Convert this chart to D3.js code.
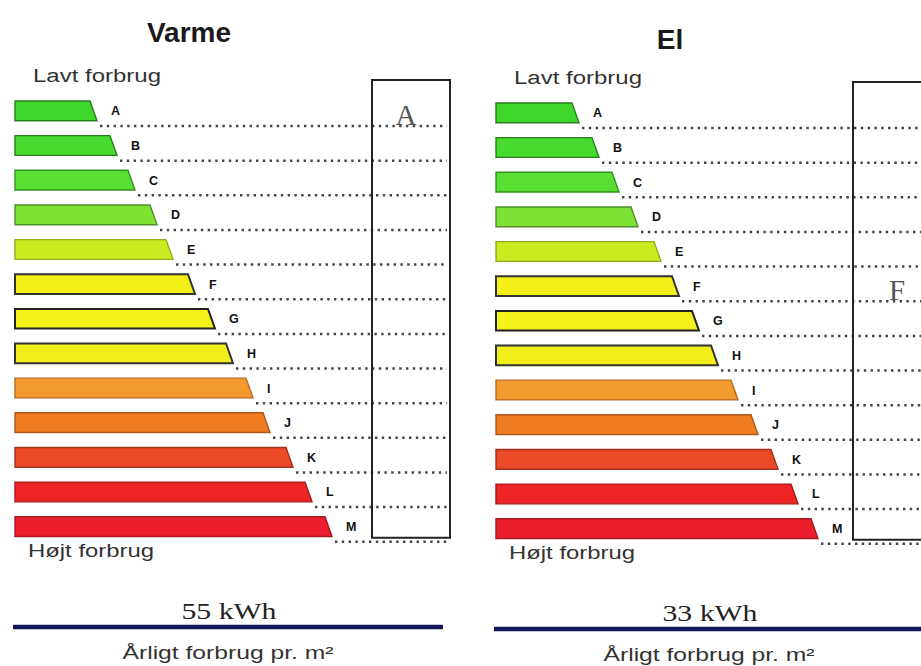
<!DOCTYPE html>
<html>
<head>
<meta charset="utf-8">
<script src="https://cdn.jsdelivr.net/npm/d3@7"></script>
<style>
  body { margin: 0; background: #fff; }
  text { font-family: "Liberation Sans", Arial, sans-serif; }
  .serif { font-family: "Liberation Serif", "Times New Roman", serif; }
</style>
</head>
<body>
<svg width="921" height="666"></svg>
<script>
// energy label grades, top (low use) to bottom (high use)
const grades = ["A", "B", "C", "D", "E", "F", "G", "H", "I", "J", "K", "L", "M"];
// bar lengths
const varmeLength = [82, 102, 120, 142, 158, 180, 200, 218, 238, 255, 278, 297, 317];
const elLength    = [83, 103, 123, 142, 165, 183, 203, 222, 242, 262, 282, 302, 322];
const gradeFill   = ["#3fd62b", "#46db2e", "#58df31", "#7ee234", "#c9ec20", "#f3ef17", "#f5f21a", "#f2ee1a",
                     "#f39a2e", "#f07c22", "#ea4a26", "#ee2424", "#ec1d2c"];
const gradeStroke = ["#2a7f1c", "#2a7f1c", "#369020", "#50902a", "#98a820", "#333", "#222", "#333",
                     "#b86a20", "#b05818", "#a03020", "#a81818", "#a81820"];
const titles   = ["Varme", "El"];
const ratings  = ["A", "F"];
const kwh      = [55, 33];

var svg = d3.select("svg"),
    width = +svg.attr("width"),
    height = +svg.attr("height");

const panels = [
  {title: titles[0], rating: ratings[0], kwh: kwh[0], lengths: varmeLength, dx: 0,   dy: 0, titleY: 42, lineEnd: 447, rx: 406},
  {title: titles[1], rating: ratings[1], kwh: kwh[1], lengths: elLength,    dx: 481, dy: 2, titleY: 47, lineEnd: 460, rx: 416}
];

const barLeft = 15;
const x = d3.scaleLinear().domain([0, 330]).range([barLeft, barLeft + 330]);
const y = d3.scaleBand().domain(grades).range([101, 101 + 13 * 33.5]).paddingInner(0.43).paddingOuter(0);
const slant = 7;

function barPath(d) {
  let x0 = barLeft, x1 = x(d.len);
  let y0 = y(d.g), y1 = y(d.g) + y.bandwidth();
  return `M${x0},${y0}L${x1 - slant},${y0}L${x1},${y1}L${x0},${y1}Z`;
}

panels.forEach((p) => {
  let g = svg.append("g").attr("transform", `translate(${p.dx},${p.dy})`);
  let rows = grades.map((gr, i) => ({g: gr, len: p.lengths[i], i: i}));

  g.append("text")
    .attr("x", 189).attr("y", p.titleY)
    .attr("text-anchor", "middle")
    .attr("font-size", 28).attr("font-weight", "bold")
    .attr("fill", "#1a1a1a")
    .text(p.title);

  g.append("text")
    .attr("x", 33).attr("y", 82)
    .attr("font-size", 18).attr("fill", "#333")
    .attr("textLength", 128).attr("lengthAdjust", "spacingAndGlyphs")
    .text("Lavt forbrug");

  // dotted row lines
  g.append("g").selectAll("line")
    .data(rows).enter().append("line")
    .attr("x1", (d) => x(d.len) + 3)
    .attr("x2", p.lineEnd)
    .attr("y1", (d) => y(d.g) + 25)
    .attr("y2", (d) => y(d.g) + 25)
    .attr("stroke", "#444")
    .attr("stroke-width", 2.5)
    .attr("stroke-dasharray", "2.4,4.4");

  // rating box
  let boxTop = y(grades[0]) - 21, boxBottom = y(grades[12]) + 21;
  g.append("rect")
    .attr("x", 372).attr("y", boxTop)
    .attr("width", 78).attr("height", boxBottom - boxTop)
    .attr("fill", "none")
    .attr("stroke", "#222").attr("stroke-width", 2);

  g.append("text")
    .attr("class", "serif")
    .attr("x", p.rx).attr("y", y(p.rating) + 24)
    .attr("text-anchor", "middle")
    .attr("font-size", 29).attr("fill", "#555")
    .text(p.rating);

  g.append("g").selectAll("path")
    .data(rows).enter().append("path")
    .attr("d", barPath)
    .attr("fill", (d) => gradeFill[d.i])
    .attr("stroke", (d) => gradeStroke[d.i])
    .attr("stroke-width", (d) => (d.i >= 5 && d.i <= 7) ? 2 : 1.4);

  g.append("g").selectAll("text")
    .data(rows).enter().append("text")
    .attr("x", (d) => x(d.len) + 14)
    .attr("y", (d) => y(d.g) + y.bandwidth() / 2 + 4.5)
    .attr("font-size", 12.5).attr("font-weight", "bold")
    .attr("fill", "#111")
    .text((d) => d.g);

  g.append("text")
    .attr("x", 28).attr("y", 557)
    .attr("font-size", 18).attr("fill", "#333")
    .attr("textLength", 126).attr("lengthAdjust", "spacingAndGlyphs")
    .text("Højt forbrug");

  g.append("text")
    .attr("class", "serif")
    .attr("x", 229).attr("y", 619)
    .attr("text-anchor", "middle")
    .attr("font-size", 23).attr("fill", "#222")
    .attr("textLength", 95).attr("lengthAdjust", "spacingAndGlyphs")
    .text(p.kwh + " kWh");

  g.append("line")
    .attr("x1", 13).attr("x2", 443 + (p.dx ? 20 : 0))
    .attr("y1", 627).attr("y2", 627)
    .attr("stroke", "#15175a").attr("stroke-width", 4.5);

  g.append("text")
    .attr("x", 228).attr("y", 659)
    .attr("text-anchor", "middle")
    .attr("font-size", 18).attr("fill", "#333")
    .attr("textLength", 211).attr("lengthAdjust", "spacingAndGlyphs")
    .text("Årligt forbrug pr. m²");
});
</script>
</body>
</html>
